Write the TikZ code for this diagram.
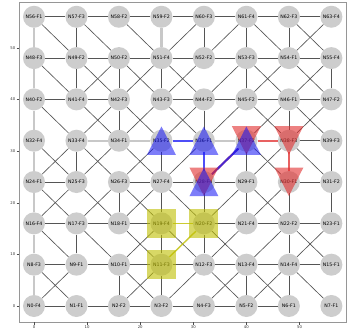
\documentclass[tikz,border=0pt]{standalone}
\usepackage{fontspec}
\newfontfamily\dv{DejaVu Sans}
\usetikzlibrary{calc}
\definecolor{edgec}{RGB}{85,85,85}
\definecolor{thickc}{RGB}{200,200,200}
\definecolor{nodec}{RGB}{205,205,205}
\definecolor{framec}{RGB}{150,150,150}
\definecolor{redc}{RGB}{225,45,45}
\definecolor{bluec}{RGB}{20,20,245}
\definecolor{yelc}{RGB}{191,191,0}
\begin{document}
\begin{tikzpicture}[x=1pt,y=1pt,
  nd/.style={circle,fill=nodec,draw=none,minimum size=22pt,inner sep=0pt,font=\dv\fontsize{4.7}{5}\selectfont},
  e/.style={draw=edgec,line width=0.65pt},
  thick gray/.style={draw=thickc,line width=2.4pt},
  bluepath/.style={draw=bluec,line width=2pt,opacity=0.75},
  redpath/.style={draw=redc,line width=2pt,opacity=0.75},
  yelpath/.style={draw=yelc,line width=1.4pt,opacity=0.8},
  bluem/.style={fill=bluec,opacity=0.55},
  redm/.style={fill=redc,opacity=0.6},
  yelm/.style={fill=yelc,opacity=0.6},
  tickl/.style={font=\dv\fontsize{3.8}{4.5}\selectfont,text=black!80,inner sep=0.5pt},
  tk/.style={draw=black!70,line width=0.4pt},
  framebox/.style={draw=framec,line width=0.7pt}]
\useasboundingbox (0,0) rectangle (355,332);
\fill[white] (0,0) rectangle (355,332);
\draw[framebox] (19,10) rectangle (346,330);
% ticks
\foreach \v in {0,10,20,30,40,50}{
  \draw[tk] (16.5,{26+5.165*\v}) -- (19,{26+5.165*\v});
  \node[tickl,anchor=east] (yt\v) at (16,{26+5.165*\v}) {\v};
  \draw[tk] ({34+5.31*\v},10) -- ({34+5.31*\v},7.5);
  \node[tickl,anchor=north] (xt\v) at ({34+5.31*\v},7) {\v};
}
% nodes
\foreach \i/\f in {0/4,1/1,2/2,3/2,4/3,5/2,6/1,7/1,
  8/3,9/1,10/1,11/3,12/3,13/4,14/4,15/1,
  16/4,17/3,18/1,19/4,20/2,21/4,22/2,23/1,
  24/1,25/3,26/3,27/4,28/4,29/1,30/1,31/2,
  32/4,33/4,34/1,35/2,36/1,37/2,38/3,39/3,
  40/2,41/4,42/3,43/3,44/2,45/2,46/1,47/2,
  48/3,49/2,50/2,51/4,52/2,53/3,54/1,55/4,
  56/1,57/3,58/2,59/2,60/3,61/4,62/3,63/4}
  \node[nd] (n\i) at ({34+42.48*mod(\i,8)},{26+41.32*floor(\i/8)}) {N\i-F\f};
% thick gray edges
\foreach \a/\b in {0/8,8/16,16/24,24/32,32/40,40/48,48/56,33/34,34/35,36/37,59/51}
  \draw[thick gray] (n\a) -- (n\b);
% thin edges
\foreach \a/\b in {56/57,57/58,58/59,59/60,60/61,61/62,62/63,
  48/49,49/50,50/51,51/52,52/53,53/54,54/55,
  40/41,41/42,43/44,44/45,45/46,46/47,
  38/39,
  24/25,26/27,27/28,28/29,30/31,
  16/17,17/18,18/19,20/21,21/22,22/23,
  8/9,9/10,10/11,11/12,12/13,13/14,14/15,
  0/1,1/2,2/3,3/4,4/5,5/6,
  57/49,60/52,61/53,62/54,
  49/41,50/42,51/43,53/45,55/47,
  42/34,44/36,46/38,
  33/25,35/27,37/29,39/31,
  26/18,27/19,28/20,29/21,30/22,31/23,
  17/9,19/11,20/12,22/14,
  10/2,11/3,13/5,14/6,
  56/49,57/50,58/51,51/60,52/61,61/54,62/55,54/63,
  48/41,49/42,41/50,50/43,42/51,51/44,43/52,44/53,53/46,45/54,54/47,46/55,
  40/33,41/34,33/42,42/35,34/43,43/36,35/44,36/45,45/38,37/46,46/39,38/47,
  32/25,24/33,33/26,25/34,34/27,26/35,27/36,37/30,29/38,38/31,
  24/17,16/25,25/18,17/26,26/19,18/27,27/20,20/29,29/22,21/30,
  16/9,17/10,18/11,10/19,19/12,20/13,12/21,13/22,22/15,14/23,
  8/1,0/9,10/3,2/11,3/12,12/5,4/13,13/6,5/14,14/7}
  \draw[e] (n\a) -- (n\b);
% highlighted paths
\foreach \a/\b in {37/38,38/30,28/37}
  \draw[redpath] (n\a) -- (n\b);
\foreach \a/\b in {35/36,36/28,28/37}
  \draw[bluepath] (n\a) -- (n\b);
\foreach \a/\b in {19/20,11/20}
  \draw[yelpath] (n\a) -- (n\b);
% markers
\foreach \n in {28,37,38,30}
  \fill[redm] ($(n\n.center)+(0,-14)$) -- ++(-14.5,28.5) -- ++(29,0) -- cycle;
\foreach \n in {35,36,37,28}
  \fill[bluem] ($(n\n.center)+(0,14.3)$) -- ++(-14.5,-28.5) -- ++(29,0) -- cycle;
\foreach \n in {19,20,11}
  \fill[yelm] ($(n\n.center)+(-14.5,-14.5)$) rectangle ++(29,29);
\end{tikzpicture}
\end{document}
